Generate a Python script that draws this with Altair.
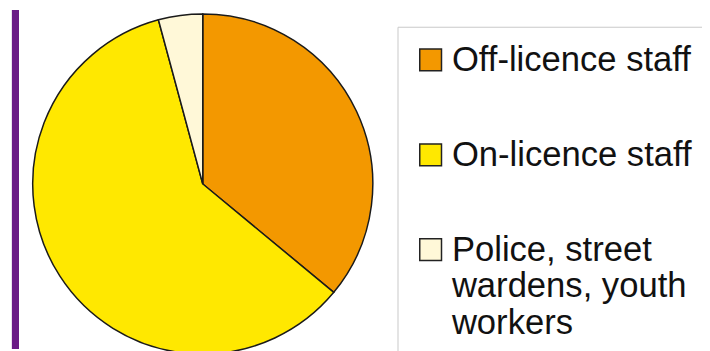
import altair as alt
import pandas as pd

categories = ["Off-licence staff", "On-licence staff", "Police, street wardens, youth workers"]
shares = [36.0, 59.8, 4.2]
colors = ["#F39800", "#FFE800", "#FFF8D8"]

df = pd.DataFrame({"group": categories, "share": shares})

label_expr = (
    "datum.label == 'Police, street wardens, youth workers' ? "
    "['Police, street', 'wardens, youth', 'workers'] : datum.label"
)

pie = alt.Chart(df).mark_arc(
    radius=172, stroke="#1a1a1a", strokeWidth=1.5
).encode(
    theta=alt.Theta("share:Q", stack=True),
    color=alt.Color(
        "group:N",
        sort=categories,
        scale=alt.Scale(domain=categories, range=colors),
        legend=alt.Legend(
            orient="none", legendX=394, legendY=17, title=None,
            symbolType="square", symbolSize=484,
            symbolStrokeColor="#222", symbolStrokeWidth=1.5,
            labelFontSize=35, labelFont="Liberation Sans", labelColor="#111",
            labelLimit=0, rowPadding=60, padding=16, labelOffset=4,
            strokeColor="#c8c8c8", fillColor="white",
            labelExpr=label_expr,
        ),
    ),
    order=alt.Order("group:N", sort="ascending"),
    x=alt.value(197),
    y=alt.value(176),
)

bar = alt.Chart(df).mark_rule(color="#6B1A86", strokeWidth=7).encode(
    x=alt.value(7.5), y=alt.value(0), y2=alt.value(343)
)

chart = alt.layer(bar, pie).properties(
    width=702, height=343, autosize=alt.AutoSizeParams(type="none"), padding=0
).configure_view(stroke=None)

chart.save("out.html", embed_options={"renderer": "svg", "actions": False})
